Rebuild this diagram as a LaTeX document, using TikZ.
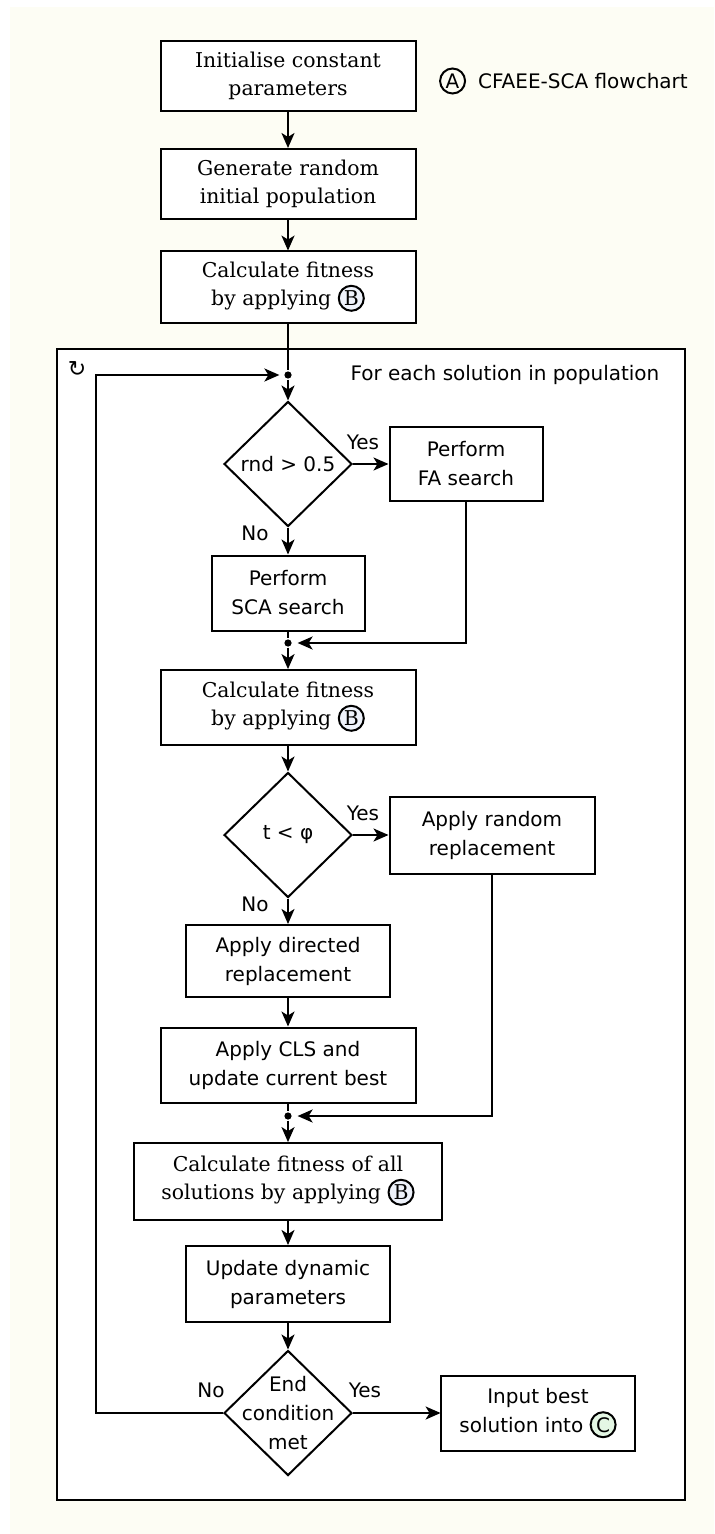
\documentclass[tikz,border=0pt]{standalone}
\usepackage{fontspec}
\setmainfont{DejaVu Serif}
\setsansfont{DejaVu Sans}
\usetikzlibrary{shapes.geometric,arrows.meta}
\definecolor{cream}{HTML}{FDFDF4}
\definecolor{bfill}{HTML}{EEF2FB}
\definecolor{cfill}{HTML}{E4F7E4}
\newcommand{\circlab}[2]{\tikz[baseline=(lab.base)]\node[draw,circle,fill=#2,line width=1pt,inner sep=0pt,minimum size=12.5pt] (lab) {#1};}

\begin{document}
\begin{tikzpicture}[x=0.5pt, y=-0.5pt, line width=1pt, >={Stealth[length=7.5pt,width=6.5pt,inset=2pt]},
    serif/.style={font=\rmfamily\fontsize{10.2}{14}\selectfont},
    sans/.style={font=\sffamily\fontsize{10}{14.5}\selectfont},
    box/.style={draw, fill=white, align=center, inner sep=2pt, minimum height=36pt},
    dec/.style={draw, diamond, fill=white, inner sep=0pt, minimum width=64pt, minimum height=62.5pt},
    junct/.style={circle, fill, inner sep=0pt, minimum size=3.6pt}]
    \useasboundingbox (0,0) rectangle (714,1534);
    \fill[cream] (10,7) rectangle (714,1534);
    \node[sans, anchor=west] (title) at (432,81) {\circlab{A}{cream}\hspace{6pt}CFAEE-SCA flowchart};
    \node[box, serif, minimum width=127.5pt, minimum height=35pt] (init) at (288,76) {Initialise constant\\parameters};
    \node[box, serif, minimum width=127.5pt, minimum height=35pt] (gen) at (288,184) {Generate random\\initial population};
    \node[box, serif, minimum width=127.5pt] (fit1) at (288,287) {Calculate fitness\\by applying \circlab{B}{bfill}};
    \draw[fill=white] (57,349) rectangle (685,1500);
    \node[font=\sffamily\fontsize{11}{11}\selectfont] (loopic) at (77,369) {↻};
    \node[sans, anchor=east] (each) at (667,375) {For each solution in population};
    \node[junct] (j1) at (288,375) {};
    \node[dec, label={[sans]center:rnd > 0.5}] (d1) at (288,464) {};
    \node[box, sans, minimum width=76.5pt, minimum height=37pt] (fa) at (466,464) {Perform\\FA search};
    \node[box, sans, minimum width=76.5pt, minimum height=37.5pt] (sca) at (288,593) {Perform\\SCA search};
    \node[junct] (j2) at (288,643) {};
    \node[box, serif, minimum width=127.5pt, minimum height=37.5pt] (fit2) at (288,707) {Calculate fitness\\by applying \circlab{B}{bfill}};
    \node[dec, label={[sans]center:t < φ}] (d2) at (288,835) {};
    \node[box, sans, minimum width=102.5pt, minimum height=38.5pt] (rand) at (492,835) {Apply random\\replacement};
    \node[box, sans, minimum width=102pt] (dir) at (288,961) {Apply directed\\replacement};
    \node[box, sans, minimum width=127.5pt, minimum height=37.5pt] (cls) at (288,1065) {Apply CLS and\\update current best};
    \node[junct] (j3) at (288,1116) {};
    \node[box, serif, minimum width=154pt, minimum height=38.5pt] (fitall) at (288,1181) {Calculate fitness of all\\solutions by applying \circlab{B}{bfill}};
    \node[box, sans, minimum width=102pt, minimum height=38pt] (upd) at (288,1284) {Update dynamic\\parameters};
    \node[dec, label={[sans, align=center]center:End\\condition\\met}] (d3) at (288,1413) {};
    \node[box, sans, minimum width=97pt, minimum height=37.5pt] (input) at (538,1413) {Input best\\solution into \circlab{C}{cfill}};
    \coordinate (back) at (96,1413);
    \node[sans] (y1) at (363,442) {Yes};
    \node[sans] (n1) at (255,533) {No};
    \node[sans] (y2) at (363,813) {Yes};
    \node[sans] (n2) at (255,904) {No};
    \node[sans] (y3) at (365,1390) {Yes};
    \node[sans] (n3) at (211,1390) {No};
    \draw[->] (init) -- (gen);
    \draw[->] (gen) -- (fit1);
    \draw (fit1) -- (j1);
    \draw[->] (j1) -- (d1);
    \draw[->] (d1) -- (fa);
    \draw[->] (d1) -- (sca);
    \draw (sca) -- (j2);
    \draw[->, shorten >=2.5pt] (fa) |- (j2);
    \draw[->] (j2) -- (fit2);
    \draw[->] (fit2) -- (d2);
    \draw[->] (d2) -- (rand);
    \draw[->] (d2) -- (dir);
    \draw[->] (dir) -- (cls);
    \draw (cls) -- (j3);
    \draw[->, shorten >=2.5pt] (rand) |- (j3);
    \draw[->] (j3) -- (fitall);
    \draw[->] (fitall) -- (upd);
    \draw[->] (upd) -- (d3);
    \draw[->] (d3) -- (input);
    \draw[->, shorten >=2pt] (d3) -- (back) |- (j1);
\end{tikzpicture}
\end{document}
